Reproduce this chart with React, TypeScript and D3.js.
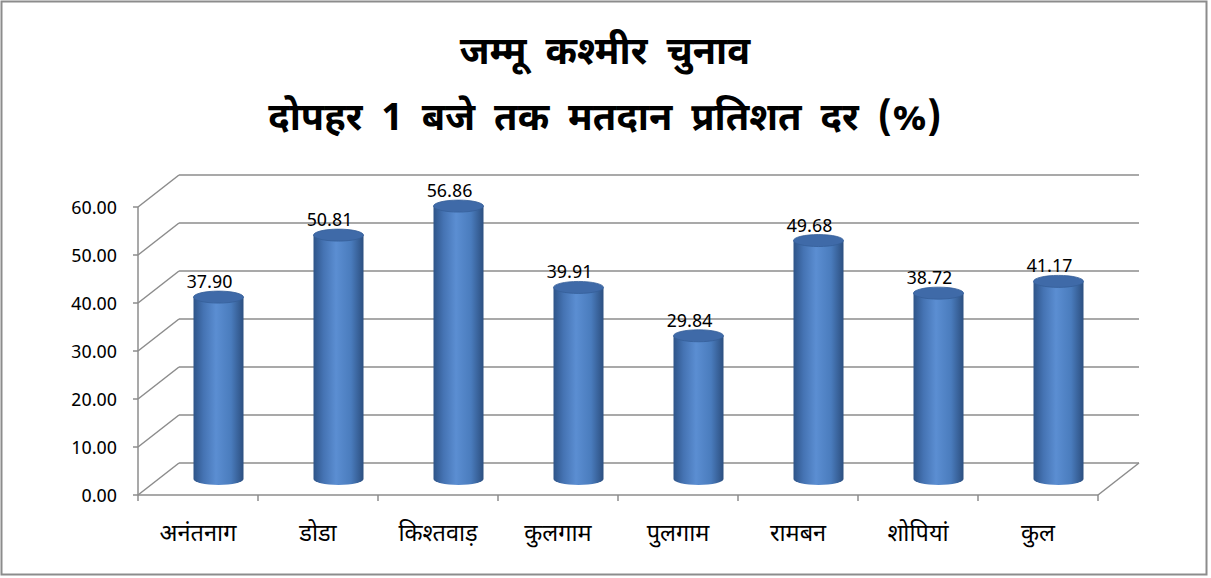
import React, { useEffect, useRef } from 'react';
import * as d3 from 'd3';

const categories = ['अनंतनाग', 'डोडा', 'किश्तवाड़', 'कुलगाम', 'पुलगाम', 'रामबन', 'शोपियां', 'कुल'];
const values = [37.9, 50.81, 56.86, 39.91, 29.84, 49.68, 38.72, 41.17];
const yTicks = [0, 10, 20, 30, 40, 50, 60];
const titleLines = ['जम्मू कश्मीर चुनाव', 'दोपहर 1 बजे तक मतदान प्रतिशत दर (%)'];

const W = 1211;
const H = 578;
const FONT = "'Noto Sans Devanagari', 'Noto Sans', 'Open Sans', sans-serif";

export default function App() {
    const ref = useRef<SVGSVGElement>(null);

    useEffect(() => {
        const svg = d3.select(ref.current);
        svg.selectAll('*').remove();

        const left = 138;
        const right = 1098;
        const base = 495;
        const depthX = 41;
        const depthY = -32;

        const y = d3.scaleLinear().domain([0, 60]).range([0, 288]);
        const x = d3.scaleBand<string>().domain(categories).range([left, right]).padding(0);

        // gradient for the cylinders
        const defs = svg.append('defs');
        const grad = defs.append('linearGradient').attr('id', 'cyl').attr('x1', '0').attr('x2', '1').attr('y1', '0').attr('y2', '0');
        grad.append('stop').attr('offset', '0%').attr('stop-color', '#2e5488');
        grad.append('stop').attr('offset', '20%').attr('stop-color', '#4573b3');
        grad.append('stop').attr('offset', '45%').attr('stop-color', '#5b8ed2');
        grad.append('stop').attr('offset', '75%').attr('stop-color', '#4a7cbd');
        grad.append('stop').attr('offset', '100%').attr('stop-color', '#2c4f80');

        // border
        svg.append('rect')
            .attr('x', 1.5).attr('y', 1.5)
            .attr('width', W - 6).attr('height', H - 5)
            .attr('fill', '#fff').attr('stroke', '#8c8c8c').attr('stroke-width', 2);

        // title
        svg.append('g').selectAll('text')
            .data(titleLines)
            .enter()
            .append('text')
            .attr('x', 605)
            .attr('y', (_, i) => 64 + i * 66)
            .attr('text-anchor', 'middle')
            .attr('font-family', FONT)
            .attr('font-weight', 'bold')
            .attr('font-size', 38)
            .attr('word-spacing', 9)
            .attr('fill', '#000')
            .text(d => d);

        const grid = svg.append('g').attr('stroke', '#8c8c8c').attr('stroke-width', 1.5).attr('fill', 'none');

        // back wall gridlines + diagonals
        yTicks.forEach(t => {
            const fy = base - y(t);
            grid.append('line').attr('x1', left + depthX).attr('x2', right + depthX).attr('y1', fy + depthY).attr('y2', fy + depthY);
            grid.append('line').attr('x1', left).attr('x2', left + depthX).attr('y1', fy).attr('y2', fy + depthY);
            grid.append('line').attr('x1', left - 5).attr('x2', left).attr('y1', fy).attr('y2', fy);
        });

        // floor front edge & right diagonal
        grid.append('line').attr('x1', left).attr('x2', right).attr('y1', base).attr('y2', base);
        grid.append('line').attr('x1', right).attr('x2', right + depthX).attr('y1', base).attr('y2', base + depthY);
        // vertical axis
        grid.append('line').attr('x1', left).attr('x2', left).attr('y1', base - y(60)).attr('y2', base);
        // category ticks
        d3.range(categories.length + 1).forEach(i => {
            const tx = left + i * x.bandwidth();
            grid.append('line').attr('x1', tx).attr('x2', tx).attr('y1', base).attr('y2', base + 6);
        });

        // y tick labels
        svg.append('g').selectAll('text')
            .data(yTicks)
            .enter()
            .append('text')
            .attr('x', 117)
            .attr('y', t => base - y(t) + 6.5)
            .attr('text-anchor', 'end')
            .attr('font-family', FONT)
            .attr('font-size', 18.5)
            .attr('fill', '#000')
            .text(t => t.toFixed(2));

        // category labels
        svg.append('g').selectAll('text')
            .data(categories)
            .enter()
            .append('text')
            .attr('x', c => (x(c) as number) + x.bandwidth() / 2)
            .attr('y', 541)
            .attr('text-anchor', 'middle')
            .attr('font-family', FONT)
            .attr('font-size', 23.5)
            .attr('fill', '#000')
            .text(c => c);

        // cylinders
        const rx = 25;
        const ry = 6;
        const bars = svg.append('g').selectAll('g')
            .data(categories.map((c, i) => ({ c, v: values[i] })))
            .enter()
            .append('g');

        const cx = (d: any) => (x(d.c) as number) + x.bandwidth() / 2 + depthX / 2;
        const yBot = base + depthY / 2;
        const yTop = (d: any) => yBot - y(d.v);

        bars.append('path')
            .attr('d', d => {
                const c = cx(d);
                return `M${c - rx},${yTop(d)} L${c - rx},${yBot} A${rx},${ry} 0 0 0 ${c + rx},${yBot} L${c + rx},${yTop(d)} Z`;
            })
            .attr('fill', 'url(#cyl)');

        bars.append('ellipse')
            .attr('cx', cx)
            .attr('cy', yTop)
            .attr('rx', rx)
            .attr('ry', ry)
            .attr('fill', '#3f6aa8')
            .attr('stroke', '#355e98')
            .attr('stroke-width', 0.8);

        bars.append('text')
            .attr('x', d => cx(d) - 9)
            .attr('y', d => yTop(d) - 9)
            .attr('text-anchor', 'middle')
            .attr('font-family', FONT)
            .attr('font-size', 18.5)
            .attr('fill', '#000')
            .text(d => d.v.toFixed(2));
    }, []);

    return (
        <svg ref={ref} width={W} height={H} style={{ position: 'absolute', left: 0, top: 0, background: '#fff' }}></svg>
    );
}
